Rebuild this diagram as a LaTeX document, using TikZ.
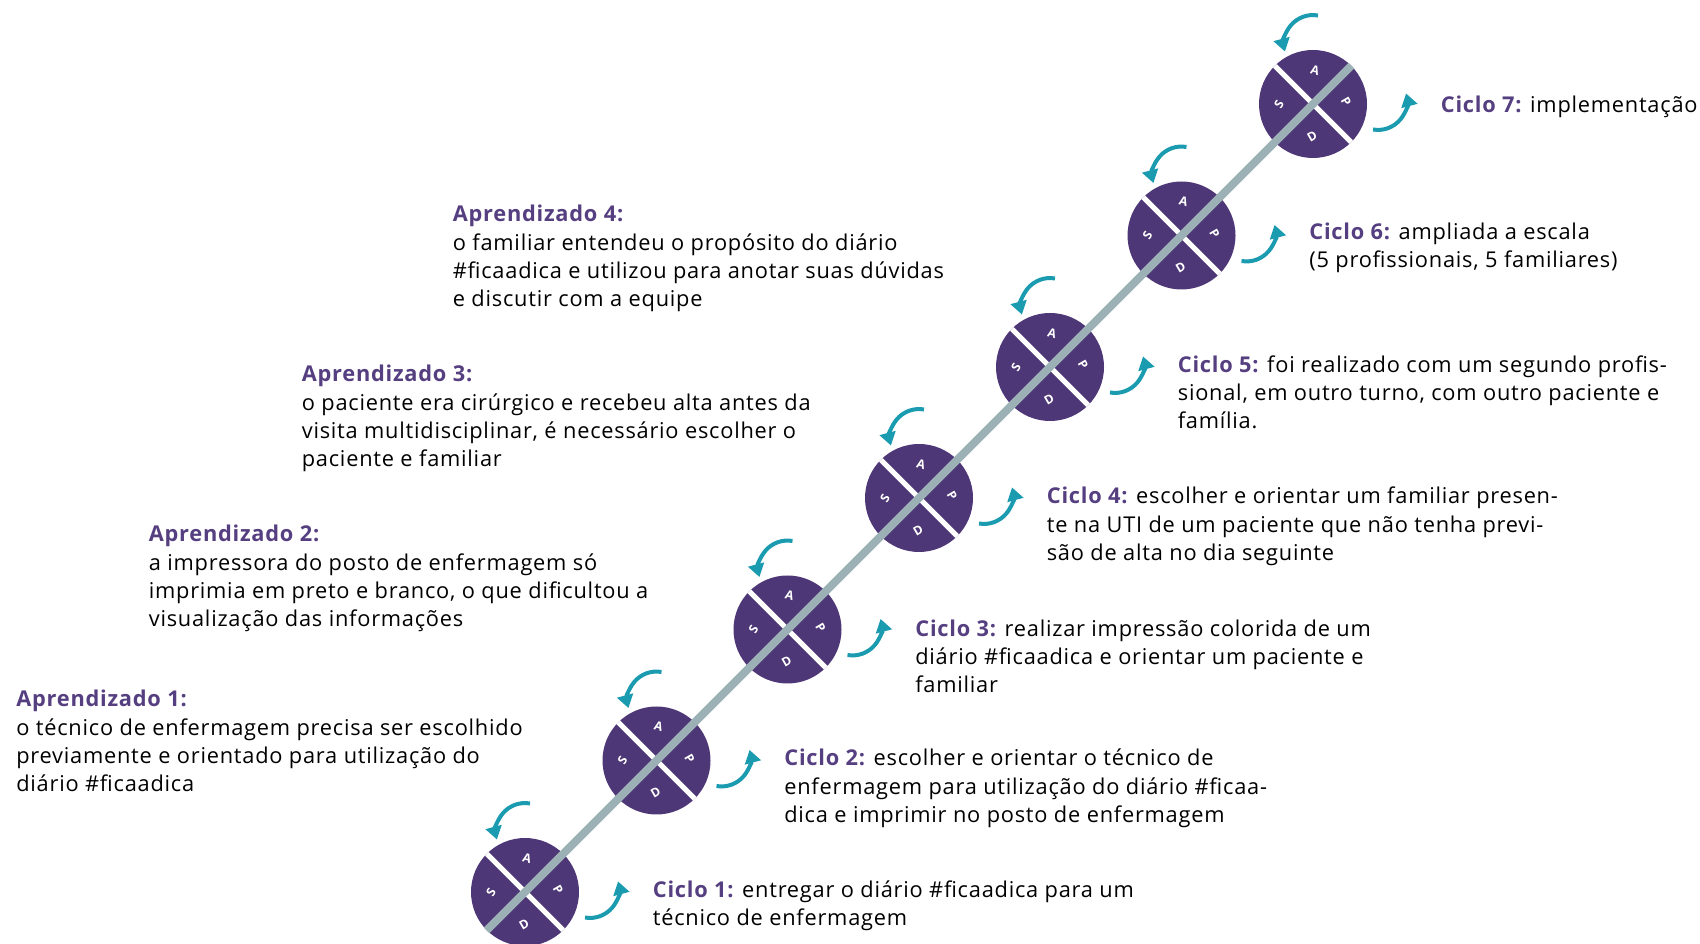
\documentclass[tikz,border=0pt]{standalone}
\usepackage{fontspec}
\setmainfont{Open Sans}[LetterSpace=3.5]
\usetikzlibrary{arrows.meta}

\definecolor{roxo}{HTML}{4E3776}
\definecolor{roxotexto}{HTML}{553F80}
\definecolor{azul}{HTML}{1B9BB0}
\definecolor{cinza}{HTML}{9CB1B5}
\newcommand{\tit}[1]{\textcolor{roxotexto}{\bfseries #1}}

\begin{document}
\begin{tikzpicture}[
  letra/.style={text=white, inner sep=0pt, font=\fontsize{7}{8}\selectfont\bfseries},
  pdsa/.style={circle, fill=roxo, minimum size=2.16cm, inner sep=0pt,
    path picture={
      \draw[white, line width=0.1cm] (path picture bounding box.north west) -- (path picture bounding box.south east);
      \path (path picture bounding box.center) ++(0.04,0.68) node[letra, rotate=-15] {A};
      \path (path picture bounding box.center) ++(0.66,0.04) node[letra, rotate=-60] {P};
      \path (path picture bounding box.center) ++(-0.02,-0.64) node[letra, rotate=30] {D};
      \path (path picture bounding box.center) ++(-0.68,0) node[letra, rotate=60] {S};
    }},
  seta/.style={draw=azul, line width=0.08cm, -{Triangle[length=0.26cm, width=0.32cm]}},
  trilho/.style={draw=cinza, line width=0.16cm},
  texto/.style={anchor=base west, inner sep=0pt, align=left, font=\fontsize{12.4}{16.2}\selectfont}]
  \useasboundingbox (0,0) rectangle (34,18.88);

  \node[pdsa] (c1) at (10.50, 1.04) {};
  \node[pdsa] (c2) at (13.13, 3.67) {};
  \node[pdsa] (c3) at (15.75, 6.29) {};
  \node[pdsa] (c4) at (18.38, 8.92) {};
  \node[pdsa] (c5) at (21.00, 11.54) {};
  \node[pdsa] (c6) at (23.63, 14.17) {};
  \node[pdsa] (c7) at (26.26, 16.80) {};

  \draw[trilho] (c1.225) -- (c7.45);

  \draw[seta] (c1.center) ++(0.10,1.77) arc[start angle=80, end angle=195, radius=0.58];
  \draw[seta] (c1.center) ++(1.20,-0.51) arc[start angle=260, end angle=375, radius=0.58];
  \draw[seta] (c2.center) ++(0.10,1.77) arc[start angle=80, end angle=195, radius=0.58];
  \draw[seta] (c2.center) ++(1.20,-0.51) arc[start angle=260, end angle=375, radius=0.58];
  \draw[seta] (c3.center) ++(0.10,1.77) arc[start angle=80, end angle=195, radius=0.58];
  \draw[seta] (c3.center) ++(1.20,-0.51) arc[start angle=260, end angle=375, radius=0.58];
  \draw[seta] (c4.center) ++(0.10,1.77) arc[start angle=80, end angle=195, radius=0.58];
  \draw[seta] (c4.center) ++(1.20,-0.51) arc[start angle=260, end angle=375, radius=0.58];
  \draw[seta] (c5.center) ++(0.10,1.77) arc[start angle=80, end angle=195, radius=0.58];
  \draw[seta] (c5.center) ++(1.20,-0.51) arc[start angle=260, end angle=375, radius=0.58];
  \draw[seta] (c6.center) ++(0.10,1.77) arc[start angle=80, end angle=195, radius=0.58];
  \draw[seta] (c6.center) ++(1.20,-0.51) arc[start angle=260, end angle=375, radius=0.58];
  \draw[seta] (c7.center) ++(0.10,1.77) arc[start angle=80, end angle=195, radius=0.58];
  \draw[seta] (c7.center) ++(1.20,-0.51) arc[start angle=260, end angle=375, radius=0.58];

  % texts: anchored at the baseline of their last line
  \node[texto] (t1) at (13.05, 0.37) {\tit{Ciclo 1:} entregar o diário \#ficaadica para um\\técnico de enfermagem};
  \node[texto] (t2) at (15.68, 2.43) {\tit{Ciclo 2:} escolher e orientar o técnico de\\enfermagem para utilização do diário \#ficaa-\\dica e imprimir no posto de enfermagem};
  \node[texto] (t3) at (18.30, 5.02) {\tit{Ciclo 3:} realizar impressão colorida de um\\diário \#ficaadica e orientar um paciente e\\familiar};
  \node[texto] (t4) at (20.93, 7.67) {\tit{Ciclo 4:} escolher e orientar um familiar presen-\\te na UTI de um paciente que não tenha previ-\\são de alta no dia seguinte};
  \node[texto] (t5) at (23.55, 10.30) {\tit{Ciclo 5:} foi realizado com um segundo profis-\\sional, em outro turno, com outro paciente e\\família.};
  \node[texto] (t6) at (26.18, 13.52) {\tit{Ciclo 6:} ampliada a escala\\(5 profissionais, 5 familiares)};
  \node[texto] (t7) at (28.81, 16.62) {\tit{Ciclo 7:} implementação};

  \node[texto] (a1) at (0.32, 3.04) {\tit{Aprendizado 1:}\\o técnico de enfermagem precisa ser escolhido\\previamente e orientado para utilização do\\diário \#ficaadica};
  \node[texto] (a2) at (2.97, 6.34) {\tit{Aprendizado 2:}\\a impressora do posto de enfermagem só\\imprimia em preto e branco, o que dificultou a\\visualização das informações};
  \node[texto] (a3) at (6.03, 9.54) {\tit{Aprendizado 3:}\\o paciente era cirúrgico e recebeu alta antes da\\visita multidisciplinar, é necessário escolher o\\paciente e familiar};
  \node[texto] (a4) at (9.05, 12.74) {\tit{Aprendizado 4:}\\o familiar entendeu o propósito do diário\\\#ficaadica e utilizou para anotar suas dúvidas\\e discutir com a equipe};
\end{tikzpicture}
\end{document}
